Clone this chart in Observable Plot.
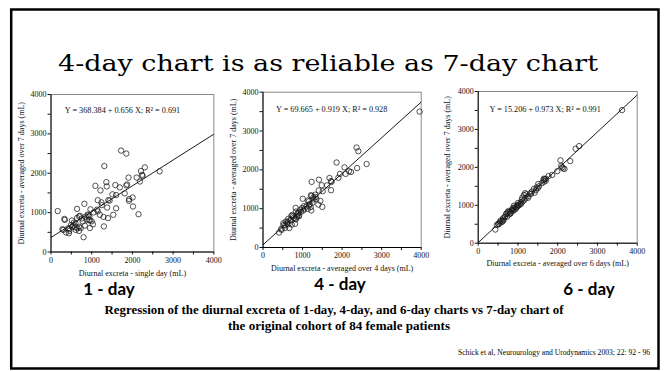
<!DOCTYPE html>
<html><head><meta charset="utf-8">
<script src="https://cdn.jsdelivr.net/npm/d3@7"></script>
<script src="https://cdn.jsdelivr.net/npm/@observablehq/plot@0.6"></script>
<style>
html,body{margin:0;padding:0;background:#fff;}
#page{position:relative;width:666px;height:371px;overflow:hidden;background:#fff;}
#page > svg{position:absolute;overflow:visible;}
</style></head><body><div id="page"></div>
<script>
// ---------- text ----------
const title = "4-day chart is as reliable as 7-day chart";
const panelNames = ["1 - day", "4 - day", "6 - day"];
const xLabels = [
  "Diurnal excreta - single day (mL)",
  "Diurnal excreta - averaged over 4 days (mL)",
  "Diurnal excreta - averaged over 6 days (mL)"
];
const yLabel = "Diurnal excreta - averaged over 7 days (mL)";
const captionLines = [
  "Regression of the diurnal excreta of 1-day, 4-day, and 6-day charts vs 7-day chart of",
  "the original cohort of 84 female patients"
];
const citation = "Schick et al, Neurourology and Urodynamics 2003; 22: 92 - 96";

// ---------- regression coefficients ----------
const intercepts = [368.384, 69.665, 15.206];
const slopes = [0.656, 0.919, 0.973];
const rSquared = [0.691, 0.928, 0.991];
const tickValues = [0, 500, 1000, 1500, 2000, 2500, 3000, 3500, 4000];

// ---------- data: [x = n-day value, y = 7-day average] ----------
const oneDay = [
  [1722,2575],[1850,2500],[1310,2183],[2305,2150],[2210,2055],[2670,2050],[2240,1960],[2250,1930],
  [1905,1890],[2105,1890],[2185,1790],[1360,1775],[1580,1700],[1090,1680],[1370,1665],[1690,1640],
  [1215,1565],[1870,1715],[1850,1690],[1810,1490],[1510,1465],[1600,1445],[2005,1385],[1920,1345],
  [1915,1300],[1410,1320],[1440,1305],[1150,1315],[1240,1260],[820,1225],[1250,1190],[1380,1130],
  [1600,1110],[2015,1155],[1130,1075],[970,1085],[640,1095],[165,1040],[1150,1030],[1200,945],
  [1290,890],[1530,945],[1400,860],[2150,960],[920,935],[940,895],[710,920],[690,900],
  [640,865],[330,840],[340,815],[930,815],[960,800],[1000,780],[515,800],[560,745],
  [600,725],[490,680],[690,640],[780,775],[1030,705],[830,670],[955,610],[1300,650],
  [420,600],[450,585],[280,580],[300,560],[450,535],[370,495],[440,475],[555,670],
  [650,605],[610,560],[690,535],[730,610],[800,375],[850,900],[880,820],[1050,1005],
  [900,950],[590,630],[520,640],[760,850]
];
const fourDay = [
  [3960,3500],[2365,2575],[2410,2480],[1860,2190],[2060,2065],[2620,2150],[2380,2045],[2175,1965],
  [2090,1895],[2225,1945],[1945,1895],[1905,1795],[1680,1790],[1720,1710],[1735,1690],[1230,1690],
  [1415,1745],[1620,1600],[1485,1605],[1720,1475],[1510,1450],[1410,1470],[1320,1360],[1330,1300],
  [1210,1345],[1230,1330],[1275,1295],[1005,1255],[1130,1210],[1250,1150],[1450,1200],[1170,1100],
  [1400,1105],[1500,1045],[1205,1040],[1220,955],[1020,955],[825,1020],[1035,1065],[1130,995],
  [900,900],[880,880],[835,925],[740,840],[720,815],[915,825],[900,800],[820,745],
  [830,725],[640,740],[690,695],[580,670],[620,660],[810,610],[725,590],[515,625],
  [520,580],[560,570],[460,480],[470,455],[555,505],[405,385],[665,500],[960,920],
  [1100,1060],[1160,1190],[780,760],[600,610],[1050,1000],[880,850],[940,970],[760,800],
  [1350,1250],[1280,1240],[700,720],[990,1020],[1180,1120],[860,790],[640,600]
];
const sixDay = [
  [3620,3510],[2540,2560],[2450,2490],[2315,2165],[2070,2185],[2110,2000],[2140,1970],[2090,2040],
  [2170,1960],[1990,1900],[1860,1800],[1770,1770],[1650,1700],[1680,1690],[1640,1660],[1700,1650],
  [1660,1620],[1510,1560],[1530,1500],[1470,1470],[1400,1430],[1300,1310],[1330,1300],[1180,1320],
  [1150,1270],[1210,1290],[1420,1330],[1110,1200],[1100,1150],[1120,1100],[1000,1060],[1020,1000],
  [980,960],[900,990],[880,930],[860,900],[760,850],[750,820],[720,790],[700,770],
  [660,690],[620,650],[580,600],[550,580],[500,510],[470,480],[430,360],[600,560],
  [640,610],[800,830],[820,800],[940,900],[960,940],[1050,1020],[1070,1080],[1250,1240],
  [1350,1360],[1500,1450],[540,540],[680,700],[780,760],[840,870],[900,880],[1000,990],
  [1150,1130],[1600,1580],[1190,1180],[730,700],[520,500],[620,590],[870,850],[990,1010],
  [1260,1200],[1450,1400],[920,950],[810,780],[1080,1040],[1700,1700]
];
const panelData = [oneDay, fourDay, sixDay];

// ---------- layout (pixels) ----------
const layouts = [
  {left: 0,   top: 85, w: 232, h: 200, ml: 50.5, mr: 18.7, mt: 9,    mb: 33.5, ex: 13.8, ey: 16,   xl: 21,   yl: -29.8},
  {left: 222, top: 80, w: 205, h: 200, ml: 40.5, mr: 6.3,  mt: 11.7, mb: 33,   ex: 13,   ey: 17.6, xl: 21,   yl: -29.5},
  {left: 436, top: 80, w: 210, h: 200, ml: 41.7, mr: 9.3,  mt: 11,   mb: 37.3, ex: 11.3, ey: 18.3, xl: 20.6, yl: -31}
];
const serif = "'Liberation Serif', 'Times New Roman', serif";

const page = document.getElementById("page");

// ---------- slide chrome ----------
const bg = d3.create("svg").attr("width", 666).attr("height", 371).style("left", "0px").style("top", "0px");
bg.append("rect").attr("x", 11.2).attr("y", 9.5).attr("width", 647.3).attr("height", 359)
  .attr("fill", "#fff").attr("stroke", "#000").attr("stroke-width", 2.5);
bg.append("text").attr("x", 58).attr("y", 70.5).attr("font-family", "'DejaVu Serif', serif").attr("font-size", 23)
  .attr("textLength", 540).attr("lengthAdjust", "spacingAndGlyphs").attr("fill", "#000").text(title);
const nameX = [109, 340, 589], nameY = [295, 290, 295];
panelNames.forEach((n, i) => {
  bg.append("text").attr("x", nameX[i]).attr("y", nameY[i]).attr("text-anchor", "middle")
    .attr("font-family", "Lato, 'Open Sans', sans-serif").attr("font-weight", 700).attr("font-size", 17)
    .attr("fill", "#000").text(n);
});
bg.append("text").attr("x", 334).attr("y", 313.5).attr("text-anchor", "middle").attr("font-family", serif)
  .attr("font-weight", 700).attr("font-size", 12).attr("textLength", 459).attr("lengthAdjust", "spacingAndGlyphs")
  .attr("fill", "#000").text(captionLines[0]);
bg.append("text").attr("x", 339).attr("y", 329.5).attr("text-anchor", "middle").attr("font-family", serif)
  .attr("font-weight", 700).attr("font-size", 12).attr("textLength", 222).attr("lengthAdjust", "spacingAndGlyphs")
  .attr("fill", "#000").text(captionLines[1]);
bg.append("text").attr("x", 650).attr("y", 354.5).attr("text-anchor", "end").attr("font-family", serif)
  .attr("font-size", 7.5).attr("textLength", 192).attr("lengthAdjust", "spacingAndGlyphs")
  .attr("fill", "#000").text(citation);
page.appendChild(bg.node());

// ---------- panels ----------
function panel(k) {
  const L = layouts[k];
  const a = intercepts[k], b = slopes[k];
  const eq = `Y = ${a.toFixed(3)} + ${b.toFixed(3)} X; R² = ${rSquared[k].toFixed(3)}`;
  const fmt = d => (d % 1000 ? "" : String(d));
  const svg = Plot.plot({
    width: L.w, height: L.h,
    marginLeft: L.ml, marginRight: L.mr, marginTop: L.mt, marginBottom: L.mb,
    x: {domain: [0, 4000]},
    y: {domain: [0, 4000]},
    style: {fontFamily: serif, fontSize: "8px", background: "transparent", color: "#111", overflow: "visible"},
    marks: [
      Plot.frame({stroke: "#8c8c8c", strokeWidth: 1}),
      Plot.axisX({ticks: tickValues, tickFormat: fmt, tickSize: 3, tickPadding: 2, label: null, fontSize: 8}),
      Plot.axisY({ticks: tickValues, tickFormat: fmt, tickSize: 3, tickPadding: 1.5, label: null, fontSize: 8}),
      Plot.ruleX([0], {stroke: "#000", strokeWidth: 1}),
      Plot.ruleY([0], {stroke: "#000", strokeWidth: 1}),
      Plot.link([{x1: 0, y1: a, x2: 4000, y2: a + b * 4000}],
        {x1: "x1", y1: "y1", x2: "x2", y2: "y2", stroke: "#000", strokeWidth: 0.9}),
      Plot.dot(panelData[k], {x: d => d[0], y: d => d[1], r: 2.7, stroke: "#1a1a1a", strokeWidth: 0.75, fill: "none"}),
      Plot.text([eq], {frameAnchor: "top-left", dx: L.ex, dy: L.ey, textAnchor: "start", lineAnchor: "middle",
        fontSize: 8.2, fill: "#111", text: d => d}),
      Plot.text([xLabels[k]], {frameAnchor: "bottom", dy: L.xl, textAnchor: "middle", lineAnchor: "middle",
        fontSize: 8, fill: "#111", text: d => d}),
      Plot.text([yLabel], {frameAnchor: "left", dx: L.yl, rotate: -90, textAnchor: "middle", lineAnchor: "middle",
        fontSize: 8, fill: "#111", text: d => d})
    ]
  });
  svg.style.left = L.left + "px";
  svg.style.top = L.top + "px";
  page.appendChild(svg);
}
[0, 1, 2].forEach(panel);
</script>
</body></html>
